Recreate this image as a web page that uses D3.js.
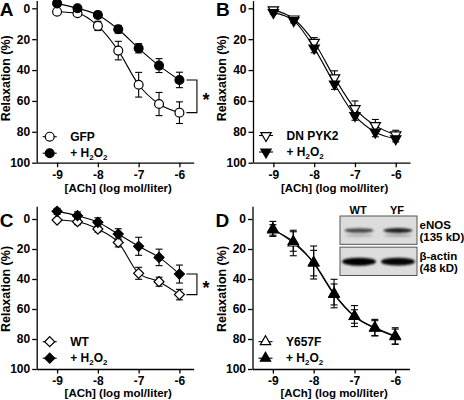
<!DOCTYPE html>
<html>
<head>
<meta charset="utf-8">
<script src="https://cdn.jsdelivr.net/npm/d3@7"></script>
<style>
body { margin: 0; background: #fff; }
text { font-family: "Liberation Sans", Arial, sans-serif; font-weight: bold; fill: #000; }
</style>
</head>
<body>
<div id="chart"></div>
<script>
// ACh concentrations (log mol/liter)
var logConc = [-9, -8.5, -8, -7.5, -7, -6.5, -6];
var xTicks = [-9, -8, -7, -6];
var yTicks = [0, 20, 40, 60, 80, 100];

// panel A
var gfp = [2.2, 3.2, 11.4, 27.4, 49.5, 62, 67.6];
var gfpErr = [1, 1.5, 3, 6, 8, 7.5, 7];
var gfpH2O2 = [-3.2, 0, 4.3, 13.6, 25.9, 37.1, 46.4];
var gfpH2O2Err = [1, 1, 2, 2.5, 3, 4.5, 5];

// panel B
var dnPyk2 = [1, 6.9, 22, 45, 65, 76, 82];
var dnPyk2Err = [1, 1.5, 3, 4.5, 5, 4, 3];
var dnPyk2H2O2 = [2.8, 8, 25.8, 49, 69.5, 80.2, 84.5];
var dnPyk2H2O2Err = [1, 1.5, 3, 3.5, 3, 3, 2];

// panel C
var wt = [0.7, 1.8, 6.7, 15.6, 36.2, 41.8, 50.4];
var wtErr = [1, 2, 2, 3, 4, 3, 3.5];
var wtH2O2 = [-5.1, -2.2, 2.2, 10, 18.2, 25.6, 36.7];
var wtH2O2Err = [2, 2.5, 3, 3.5, 6, 5.5, 6];

// panel D
var y657f = [6.6, 16, 29, 49.7, 64.7, 72.4, 78];
var y657fErr = [5, 8.5, 11, 9.5, 7, 5.5, 5.5];
var y657fH2O2 = [7.3, 15, 29.4, 50.3, 65, 72.8, 78.4];
var y657fH2O2Err = [3.5, 6.5, 8.5, 7, 4.5, 5, 5];

// western blot inset (panel D)
var blotLanes = ["WT", "YF"];
var blotProteins = ["eNOS", "β-actin"];
var blotSizes = ["(135 kD)", "(48 kD)"];
var eNOSBand = [0.75, 0.95];
var actinBand = [1, 0.97];

var svg = d3.select("#chart").append("svg")
    .attr("width", 464)
    .attr("height", 400);

var rows = {
    top: {y0: 8.3, y100: 162.7, yMin: -5, titleOff: 29.5},
    bottom: {y0: 219, y100: 369, yMin: -8.5, titleOff: 27.5}
};

function marker(type) {
    if (type == "circle") return d3.symbol(d3.symbolCircle, 62)();
    if (type == "diamond") return d3.symbol(d3.symbolSquare, 50)();
    return d3.symbol(d3.symbolTriangle, 46)();
}
function markerRotate(type) {
    if (type == "diamond") return 45;
    if (type == "down") return 180;
    return 0;
}

function labelText(sel, label) {
    if (label == "H2O2") {
        sel.append("tspan").text("+ H");
        sel.append("tspan").attr("dy", 3).style("font-size", "8px").text("2");
        sel.append("tspan").attr("dy", -3).text("O");
        sel.append("tspan").attr("dy", 3).style("font-size", "8px").text("2");
    } else {
        sel.text(label);
    }
}

function drawPanel(p) {
    var row = rows[p.row];
    var g = svg.append("g");

    var x = d3.scaleLinear().domain([-9.5, -5.65]).range([p.axisX, p.axisX + 157]);
    var y = d3.scaleLinear().domain([0, 100]).range([row.y0, row.y100]);
    var yAx = d3.scaleLinear().domain([row.yMin, 100]).range([y(row.yMin), row.y100]);

    // axes
    var ya = g.append("g")
        .attr("transform", "translate(" + p.axisX + ",0)")
        .call(d3.axisLeft(yAx).tickValues(yTicks).tickSizeInner(4.5).tickSizeOuter(0).tickPadding(2));
    var xa = g.append("g")
        .attr("transform", "translate(0," + row.y100 + ")")
        .call(d3.axisBottom(x).tickValues(xTicks).tickFormat(function(d) { return String(d); })
            .tickSizeInner(4.5).tickSizeOuter(0).tickPadding(3));
    [ya, xa].forEach(function(a) {
        a.selectAll("path, line").attr("stroke", "#000").attr("stroke-width", 1.3);
        a.selectAll("text").style("font-size", "12px").attr("font-family", null);
    });

    // axis titles
    g.append("text")
        .attr("transform", "translate(" + (p.axisX - 27) + "," + (row.y0 + 70) + ") rotate(-90)")
        .attr("text-anchor", "middle")
        .style("font-size", "12.5px")
        .text("Relaxation (%)");
    g.append("text")
        .attr("x", x(-7.5))
        .attr("y", row.y100 + row.titleOff)
        .attr("text-anchor", "middle")
        .style("font-size", "11.5px")
        .text("[ACh] (log mol/liter)");

    // panel letter
    g.append("text")
        .attr("x", p.axisX - 37)
        .attr("y", row.y0 + 7.5)
        .style("font-size", "19px")
        .text(p.letter);

    var line = d3.line()
        .x(function(d, i) { return x(logConc[i]); })
        .y(function(d) { return y(d); })
        .curve(d3.curveMonotoneX);

    p.series.forEach(function(s) {
        g.append("path")
            .attr("d", line(s.values))
            .attr("fill", "none")
            .attr("stroke", "#000")
            .attr("stroke-width", 1.1);
    });

    p.series.forEach(function(s) {
        var eb = g.append("g").selectAll("g")
            .data(s.values)
            .enter().append("g")
            .attr("stroke", "#000")
            .attr("stroke-width", 1.1);
        eb.append("line")
            .attr("x1", function(d, i) { return x(logConc[i]); })
            .attr("x2", function(d, i) { return x(logConc[i]); })
            .attr("y1", function(d, i) { return y(d - s.err[i]); })
            .attr("y2", function(d, i) { return y(d + s.err[i]); });
        [-1, 1].forEach(function(sign) {
            eb.append("line")
                .attr("x1", function(d, i) { return x(logConc[i]) - 3.5; })
                .attr("x2", function(d, i) { return x(logConc[i]) + 3.5; })
                .attr("y1", function(d, i) { return y(d + sign * s.err[i]); })
                .attr("y2", function(d, i) { return y(d + sign * s.err[i]); });
        });
    });

    p.series.forEach(function(s) {
        g.append("g").selectAll("path")
            .data(s.values)
            .enter().append("path")
            .attr("d", marker(s.shape))
            .attr("transform", function(d, i) {
                return "translate(" + x(logConc[i]) + "," + y(d) + ") rotate(" + markerRotate(s.shape) + ")";
            })
            .attr("fill", s.filled ? "#000" : "#fff")
            .attr("stroke", "#000")
            .attr("stroke-width", 1.2);
    });

    // legend
    p.series.forEach(function(s, k) {
        var ly = p.legendY + k * 16.5;
        g.append("line")
            .attr("x1", p.axisX + 6).attr("x2", p.axisX + 20)
            .attr("y1", ly).attr("y2", ly)
            .attr("stroke", "#000").attr("stroke-width", 1.1);
        g.append("path")
            .attr("d", marker(s.shape))
            .attr("transform", "translate(" + (p.axisX + 13) + "," + ly + ") rotate(" + markerRotate(s.shape) + ")")
            .attr("fill", s.filled ? "#000" : "#fff")
            .attr("stroke", "#000")
            .attr("stroke-width", 1.2);
        var t = g.append("text")
            .attr("x", p.axisX + 33.5)
            .attr("y", ly + 4.2)
            .style("font-size", "12px");
        labelText(t, s.label);
    });

    // significance bracket
    if (p.bracket) {
        var last = logConc.length - 1;
        var ya1 = y(p.series[1].values[last]);
        var ya2 = y(p.series[0].values[last]);
        var bx = x(-6);
        g.append("path")
            .attr("d", "M" + (bx + 7) + "," + ya1 + "H" + (bx + 17.5) + "V" + ya2 + "H" + (bx + 7))
            .attr("fill", "none")
            .attr("stroke", "#000")
            .attr("stroke-width", 1.1);
        g.append("text")
            .attr("x", bx + 26.5)
            .attr("y", (ya1 + ya2) / 2 + 10)
            .attr("text-anchor", "middle")
            .style("font-size", "18px")
            .text("*");
    }
}

drawPanel({letter: "A", row: "top", axisX: 36.7, legendY: 136.7, bracket: true, series: [
    {label: "GFP", values: gfp, err: gfpErr, shape: "circle", filled: false},
    {label: "H2O2", values: gfpH2O2, err: gfpH2O2Err, shape: "circle", filled: true}
]});
drawPanel({letter: "B", row: "top", axisX: 253, legendY: 135.5, bracket: false, series: [
    {label: "DN PYK2", values: dnPyk2, err: dnPyk2Err, shape: "down", filled: false},
    {label: "H2O2", values: dnPyk2H2O2, err: dnPyk2H2O2Err, shape: "down", filled: true}
]});
drawPanel({letter: "C", row: "bottom", axisX: 36.7, legendY: 341.7, bracket: true, series: [
    {label: "WT", values: wt, err: wtErr, shape: "diamond", filled: false},
    {label: "H2O2", values: wtH2O2, err: wtH2O2Err, shape: "diamond", filled: true}
]});
drawPanel({letter: "D", row: "bottom", axisX: 252.5, legendY: 341.7, bracket: false, series: [
    {label: "Y657F", values: y657f, err: y657fErr, shape: "up", filled: false},
    {label: "H2O2", values: y657fH2O2, err: y657fH2O2Err, shape: "up", filled: true}
]});

// blot inset
var defs = svg.append("defs");
defs.append("filter").attr("id", "blur")
    .attr("x", "-20%").attr("y", "-100%").attr("width", "140%").attr("height", "300%")
    .append("feGaussianBlur").attr("stdDeviation", "1.1 1");

var laneX = d3.scaleBand().domain(blotLanes).range([340, 417]).paddingInner(0.02);
var protY = d3.scaleBand().domain(blotProteins).range([216, 275.5]).paddingInner(0.09);
var blot = svg.append("g");

blot.selectAll("text.lane")
    .data(blotLanes)
    .enter().append("text")
    .attr("class", "lane")
    .attr("x", function(d) { return laneX(d) + laneX.bandwidth() / 2 - 1; })
    .attr("y", 213.5)
    .attr("text-anchor", "middle")
    .style("font-size", "11px")
    .text(function(d) { return d; });

blotProteins.forEach(function(prot, k) {
    var top = protY(prot);
    var h = protY.bandwidth();
    blot.append("rect")
        .attr("x", 340).attr("y", top)
        .attr("width", 77).attr("height", h)
        .attr("fill", "#dcdcdc")
        .attr("stroke", "#555")
        .attr("stroke-width", 1);
    var levels = k == 0 ? eNOSBand : actinBand;
    var bh = k == 0 ? 5 : 8;
    var cy = top + 14.5;
    if (k == 0) {
        blot.selectAll(null)
            .data(levels)
            .enter().append("ellipse")
            .attr("cx", function(d, i) { return laneX(blotLanes[i]) + laneX.bandwidth() / 2; })
            .attr("cy", cy + 5)
            .attr("rx", 14)
            .attr("ry", 1.4)
            .attr("fill", "#000")
            .attr("opacity", function(d) { return d * 0.25; })
            .attr("filter", "url(#blur)");
    }
    blot.selectAll(null)
        .data(levels)
        .enter().append("ellipse")
        .attr("cx", function(d, i) { return laneX(blotLanes[i]) + laneX.bandwidth() / 2; })
        .attr("cy", cy)
        .attr("rx", k == 0 ? 14.5 : 17)
        .attr("ry", function(d) { return bh / 2 * (0.7 + 0.3 * d); })
        .attr("fill", "#000")
        .attr("opacity", function(d) { return d * (k == 0 ? 0.9 : 1); })
        .attr("filter", "url(#blur)");

    blot.append("text")
        .attr("x", 419.5)
        .attr("y", top + 12.5)
        .style("font-size", "11.5px")
        .text(prot);
    blot.append("text")
        .attr("x", 419.5)
        .attr("y", top + 25)
        .style("font-size", "11.5px")
        .text(blotSizes[k]);
});
</script>
</body>
</html>
